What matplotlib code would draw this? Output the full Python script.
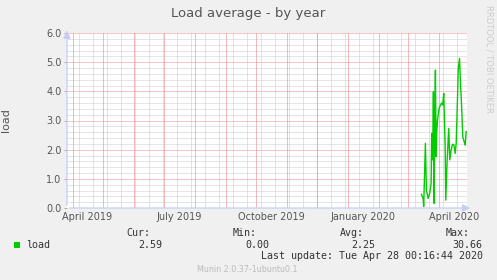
import matplotlib
matplotlib.use("Agg")
import matplotlib.pyplot as plt
import pandas as pd

# ---- data ----
dates = ["2020-03-14 00:00", "2020-03-15 17:00", "2020-03-16 07:00", "2020-03-18 00:00",
         "2020-03-19 00:00", "2020-03-20 17:00", "2020-03-22 07:00", "2020-03-23 17:00",
         "2020-03-24 07:00", "2020-03-25 07:00", "2020-03-26 00:00", "2020-03-26 17:00",
         "2020-03-27 07:00", "2020-03-28 00:00", "2020-03-28 17:00", "2020-03-29 07:00",
         "2020-03-30 00:00", "2020-03-31 00:00", "2020-03-31 17:00", "2020-04-02 00:00",
         "2020-04-03 07:00", "2020-04-04 07:00", "2020-04-05 07:00", "2020-04-06 17:00",
         "2020-04-07 07:00", "2020-04-08 17:00", "2020-04-10 07:00", "2020-04-11 07:00",
         "2020-04-12 17:00", "2020-04-14 00:00", "2020-04-15 07:00", "2020-04-16 17:00",
         "2020-04-17 17:00", "2020-04-18 17:00", "2020-04-19 17:00", "2020-04-21 00:00",
         "2020-04-22 00:00", "2020-04-23 00:00", "2020-04-24 07:00", "2020-04-25 17:00",
         "2020-04-26 17:00", "2020-04-27 17:00"]
load = [0.47, 0.33, 0.05, 2.22, 0.62, 0.33, 0.50, 0.85, 2.56, 1.65, 3.99, 0.16,
        3.00, 4.73, 1.76, 2.56, 3.00, 3.25, 3.42, 3.53, 3.60, 3.53, 3.93, 2.10,
        0.27, 1.65, 2.73, 1.65, 1.99, 2.18, 2.18, 1.87, 2.22, 3.36, 4.73, 5.13,
        4.27, 3.59, 2.44, 2.27, 2.16, 2.62]
xtick_labels = ["April 2019", "July 2019", "October 2019", "January 2020", "April 2020"]
xtick_dates = ["2019-04-16", "2019-07-16", "2019-10-16", "2020-01-16", "2020-04-16"]
yticks = [0, 1, 2, 3, 4, 5, 6]
legend_name = "load"
stats_headers = ["Cur:", "Min:", "Avg:", "Max:"]
stats_values = ["2.59", "0.00", "2.25", "30.66"]
last_update = "Last update: Tue Apr 28 00:16:44 2020"
footer = "Munin 2.0.37-1ubuntu0.1"

W, H = 497, 280
BG = "#F0F0F0"
TXT = "#555555"
fig = plt.figure(figsize=(W / 100, H / 100), dpi=100, facecolor=BG)
L, R, T, B = 67, 467, 33, 208
ax = fig.add_axes([L / W, 1 - B / H, (R - L) / W, (B - T) / H])
ax.set_facecolor("white")

x = pd.to_datetime(dates)
xmin, xmax = pd.Timestamp("2019-03-26 12:00"), pd.Timestamp("2020-04-28 12:00")
ax.set_xlim(xmin, xmax)
ax.set_ylim(0, 6)

# grid lines (dotted)
dot = (0, (1, 1))
gkw = dict(lw=0.72, linestyles=[dot], snap=True)
minor_x = [d for d in pd.date_range("2019-03-24", "2020-04-30", freq="14D") if xmin < d < xmax]
major_x = [d for d in pd.date_range("2019-04-01", "2020-04-30", freq="MS") if xmin < d < xmax]
minor_y = [i * 0.2 for i in range(1, 30) if i % 5 != 0]
ax.vlines(minor_x, 0, 6, colors="#C8C8C8", zorder=1, **gkw)
ax.hlines(minor_y, xmin, xmax, colors="#CCCCCC", zorder=1, **gkw)
ax.vlines(major_x, 0, 6, colors="#E87878", zorder=2, **gkw)
ax.hlines(yticks[1:], xmin, xmax, colors="#F09090", zorder=2, **gkw)

ax.plot(x, load, color="#00CC00", lw=1.0, zorder=5)

for s in ax.spines.values():
    s.set_visible(False)

ax.set_yticks(yticks)
ax.set_yticklabels([f"{v:.1f}" for v in yticks])
ax.set_xticks(pd.to_datetime(xtick_dates))
ax.set_xticklabels(xtick_labels)
ax.tick_params(axis="x", length=0, labelsize=7, colors=TXT, pad=3)
ax.tick_params(axis="y", length=2, width=0.7, color="#AAAAAA", labelsize=7, labelcolor=TXT, pad=2)
ax.set_ylabel("load", fontsize=8, color=TXT)
ax.yaxis.set_label_coords((10.5 - L) / (R - L), 0.5)

# axes with arrows
axis_col = "#C8CCF8"
ax.annotate("", xy=(1.015, 0), xytext=(0, 0), xycoords="axes fraction",
            arrowprops=dict(arrowstyle="-|>,head_length=0.45,head_width=0.22", color=axis_col, lw=0.9),
            annotation_clip=False, zorder=6)
ax.annotate("", xy=(0, 1.03), xytext=(0, 0), xycoords="axes fraction",
            arrowprops=dict(arrowstyle="-|>,head_length=0.45,head_width=0.22", color=axis_col, lw=0.9),
            annotation_clip=False, zorder=6)

def fx(px):
    return px / W

def fy(py):
    return 1 - py / H

fig.text(fx(248), fy(13.5), "Load average - by year", ha="center", va="center",
         fontsize=9.5, color=TXT)
fig.text(fx(489), fy(5), "RRDTOOL / TOBI OETIKER", rotation=270, ha="center", va="top",
         fontsize=6, color="#CCCCCC")

mono = "DejaVu Sans Mono"
fs = 7.2
fig.patches.append(plt.Rectangle((fx(14), fy(247.5)), 6 / W, 6 / H, transform=fig.transFigure,
                                 facecolor="#00CC00", edgecolor="none"))
fig.text(fx(26.5), fy(244.5), legend_name, family=mono, fontsize=fs, color="#333333",
         ha="left", va="center")
for hx, h in zip([150.7, 257, 363.5, 470], stats_headers):
    fig.text(fx(hx), fy(233), h, family=mono, fontsize=fs, color="#333333", ha="right", va="center")
for vx, v in zip([162.7, 269, 375.7, 482.7], stats_values):
    fig.text(fx(vx), fy(244.5), v, family=mono, fontsize=fs, color="#333333", ha="right", va="center")
fig.text(fx(482.7), fy(256), last_update, family=mono, fontsize=fs, color="#333333",
         ha="right", va="center")
fig.text(fx(247.5), fy(269.5), footer, fontsize=5.8, color="#BBBBBB", ha="center", va="center")

fig.savefig("out.png", dpi=100, facecolor=BG)
